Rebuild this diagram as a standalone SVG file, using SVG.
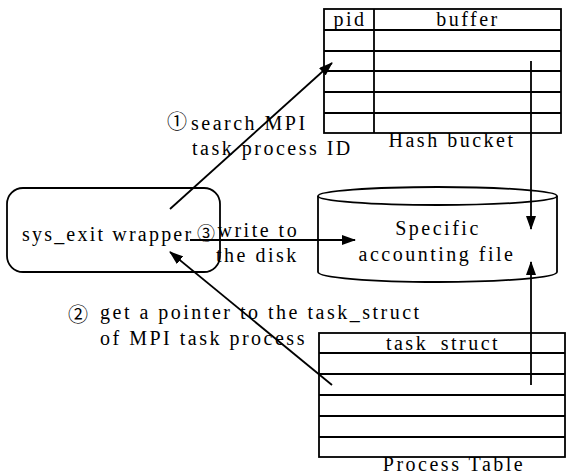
<svg xmlns="http://www.w3.org/2000/svg" width="567" height="475" viewBox="0 0 567 475">
<style>
.ln{stroke:#000;stroke-width:1.8;fill:none}
.tx{font-family:"Liberation Serif","Times New Roman",serif;font-size:20px;fill:#000;letter-spacing:2.5px}
.c{text-anchor:middle}
.num{font-family:"Noto Sans CJK SC","DejaVu Sans",sans-serif;font-size:20px;fill:#000}
.n3{font-family:"Noto Sans CJK SC","DejaVu Sans",sans-serif;font-size:18px}
</style>
<defs>
<marker id="ah" markerWidth="14" markerHeight="10" refX="13" refY="5" orient="auto" markerUnits="userSpaceOnUse">
<path d="M0,0 L14,5 L0,10 Z" fill="#000"/>
</marker>
</defs>
<rect width="567" height="475" fill="#fff"/>
<g id="hash-bucket">
<rect class="ln" x="324" y="9" width="237" height="124"/>
<line class="ln" x1="374" y1="9" x2="374" y2="133"/>
<line class="ln" x1="324" y1="30" x2="561" y2="30"/>
<line class="ln" x1="324" y1="51" x2="561" y2="51"/>
<line class="ln" x1="324" y1="71" x2="561" y2="71"/>
<line class="ln" x1="324" y1="92" x2="561" y2="92"/>
<line class="ln" x1="324" y1="113" x2="561" y2="113"/>
<text class="tx c" x="350" y="26">pid</text>
<text class="tx c" x="468" y="26">buffer</text>
<text class="tx c" x="452" y="147">Hash bucket</text>
</g>
<g id="sys-exit-wrapper">
<rect class="ln" x="7" y="188" width="213" height="84" rx="16"/>
<text class="tx" x="22" y="241" style="letter-spacing:2.2px">sys_exit wrapper</text>
</g>
<g id="accounting-file">
<path class="ln" d="M318,196 L318,272 A119.5,10 0 0 0 557,272 L557,196"/>
<ellipse class="ln" cx="437.5" cy="196" rx="119.5" ry="9"/>
<text class="tx c" x="438" y="235">Specific</text>
<text class="tx c" x="437" y="261">accounting file</text>
</g>
<g id="process-table">
<rect class="ln" x="319" y="333" width="246" height="124"/>
<line class="ln" x1="319" y1="353" x2="565" y2="353"/>
<line class="ln" x1="319" y1="374" x2="565" y2="374"/>
<line class="ln" x1="319" y1="395" x2="565" y2="395"/>
<line class="ln" x1="319" y1="416" x2="565" y2="416"/>
<line class="ln" x1="319" y1="437" x2="565" y2="437"/>
<text class="tx c" x="443" y="350">task_struct</text>
<text class="tx c" x="454" y="471">Process Table</text>
</g>
<g id="connectors">
<line class="ln" x1="170" y1="209" x2="332" y2="63" marker-end="url(#ah)"/>
<line class="ln" x1="332" y1="385" x2="170" y2="252" marker-end="url(#ah)"/>
<line class="ln" x1="190" y1="240" x2="355" y2="240" marker-end="url(#ah)"/>
<line class="ln" x1="531" y1="61" x2="531" y2="229" marker-end="url(#ah)"/>
<line class="ln" x1="531" y1="385" x2="531" y2="262" marker-end="url(#ah)"/>
<text class="num" x="167" y="129">①</text>
<text class="tx" x="191" y="130">search MPI</text>
<text class="tx" x="192" y="155">task process ID</text>
<text class="num" x="68" y="322">②</text>
<text class="tx" x="100" y="319">get a pointer to the task_struct</text>
<text class="tx" x="100" y="345">of MPI task process</text>
<text class="tx" x="197" y="240"><tspan class="n3">③</tspan><tspan y="237">write to</tspan></text>
<text class="tx" x="216" y="262">the disk</text>
</g>
</svg>
